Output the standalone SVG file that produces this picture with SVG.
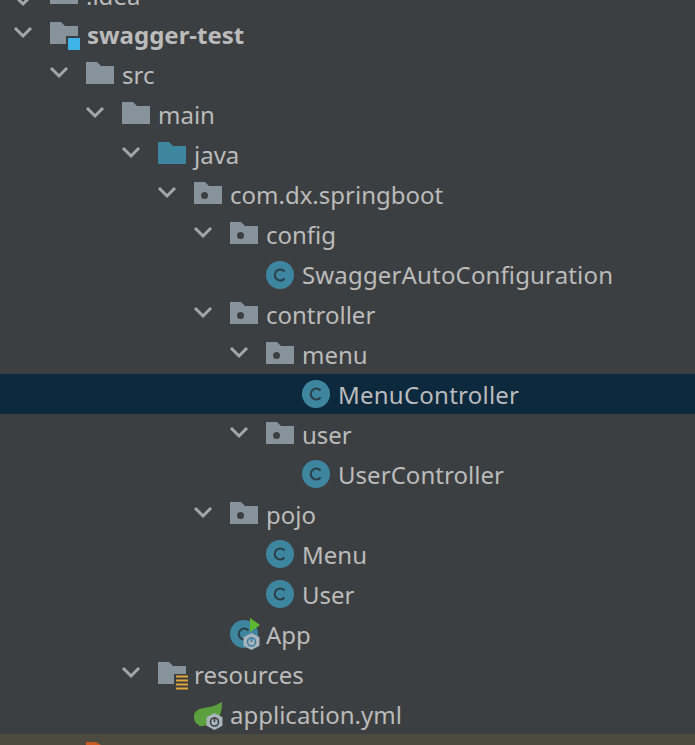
<svg xmlns="http://www.w3.org/2000/svg" width="695" height="745" viewBox="0 0 695 745">
<style>
text{font-family:"Noto Sans","Open Sans","Liberation Sans",sans-serif;font-size:24px;fill:#bbbbbb}
.b{font-weight:700}
.chev{fill:none;stroke:#a4a6a8;stroke-width:3}
.f{fill:#87939a}
.j{fill:#3e86a0}
.dot{fill:#3c3f41}
.cc{fill:#3e86a0}
.cl{fill:none;stroke:#2b3e48;stroke-width:2}
.hex{fill:#a9b4bc}
</style>
<defs>
<path id="chev" class="chev" d="M0 0L8 8L16 0"/>
<path id="folder" d="M0 0H11L15 4H28V22H0Z"/>
<g id="pkg"><use href="#folder" class="f"/><circle class="dot" cx="10.500" cy="13.500" r="3.500"/></g>
<g id="cls"><circle class="cc" r="14"/><path class="cl" d="M4.500-3.500A5.500 5.500 0 1 0 4.500 3.500"/></g>
<path id="hexagon" class="hex" d="M0-8.500L8 -4.200V4.200L0 8.500L-8 4.200V-4.200Z"/>
</defs>
<rect id="bg" width="695" height="745" fill="#3c3f41"/>
<rect id="sel" y="374" width="695" height="40" fill="#0d293e"/>
<rect id="bottom" y="734" width="695" height="11" fill="#4d4a40"/>
<path d="M86 742h10l5 3h-15z" fill="#c75b21"/>
<g id="connectors">
<use href="#chev" x="15" y="28"/><use href="#chev" x="51" y="68"/><use href="#chev" x="87" y="108"/><use href="#chev" x="123" y="148"/><use href="#chev" x="159" y="188"/><use href="#chev" x="195" y="228"/><use href="#chev" x="195" y="308"/><use href="#chev" x="231" y="348"/><use href="#chev" x="231" y="428"/><use href="#chev" x="195" y="508"/><use href="#chev" x="123" y="668"/>
<path class="chev" d="M15-4L23 4L31-4"/>
</g>
<g id="idea"><rect class="f" x="50" y="-8" width="28" height="12"/><text x="86" y="5">.idea</text></g>
<g id="swagger-test"><use href="#folder" class="f" x="50" y="22"/><rect x="66" y="36" width="16" height="16" fill="#3c3f41"/><rect x="68" y="38" width="12" height="12" fill="#3cb4e6"/><text class="b" x="87" y="44">swagger-test</text></g>
<g id="src"><use href="#folder" class="f" x="86" y="62"/><text x="122" y="84">src</text></g>
<g id="main"><use href="#folder" class="f" x="122" y="102"/><text x="158" y="124">main</text></g>
<g id="java"><use href="#folder" class="j" x="158" y="142"/><text x="194" y="164">java</text></g>
<g id="springboot"><use href="#pkg" x="194" y="182"/><text x="230" y="204">com.dx.springboot</text></g>
<g id="config"><use href="#pkg" x="230" y="222"/><text x="266" y="244">config</text></g>
<g id="swaggerauto"><use href="#cls" x="280" y="275"/><text x="302" y="284" textLength="311">SwaggerAutoConfiguration</text></g>
<g id="controller"><use href="#pkg" x="230" y="302"/><text x="266" y="324">controller</text></g>
<g id="menu"><use href="#pkg" x="266" y="342"/><text x="302" y="364">menu</text></g>
<g id="menucontroller"><use href="#cls" x="316" y="394"/><text x="338" y="404" textLength="181">MenuController</text></g>
<g id="user"><use href="#pkg" x="266" y="422"/><text x="302" y="444">user</text></g>
<g id="usercontroller"><use href="#cls" x="316" y="474"/><text x="338" y="484" textLength="166">UserController</text></g>
<g id="pojo"><use href="#pkg" x="230" y="502"/><text x="266" y="524">pojo</text></g>
<g id="menuclass"><use href="#cls" x="280" y="554"/><text x="302" y="564">Menu</text></g>
<g id="userclass"><use href="#cls" x="280" y="594"/><text x="302" y="604">User</text></g>
<g id="app"><use href="#cls" x="244" y="634"/><path d="M250 618L260 625L250 632Z" fill="#5fb832"/><use href="#hexagon" x="251.500" y="641.500"/><circle cx="251.500" cy="642" r="4" fill="none" stroke="#3e7f9d" stroke-width="1.600"/><path d="M251.500 637v5" stroke="#3e7f9d" stroke-width="1.600"/><text x="266" y="644">App</text></g>
<g id="resources"><use href="#folder" class="f" x="158" y="662"/><rect x="174" y="674" width="16" height="16" fill="#3c3f41"/><path d="M176 676.500h12M176 680.500h12M176 684.500h12M176 688.500h12" stroke="#e0a83c" stroke-width="2"/><text x="194" y="684">resources</text></g>
<g id="application"><path d="M194 717C194 708 204 708 210 707C215 706 220 703 222 702C222 712 220 722 208 725C203 726 198 727 199 725C196 724 194 721 194 717Z" fill="#5c9f3f"/><rect x="204" y="711" width="1" height="1" fill="#5c9f3f"/><use href="#hexagon" x="214.500" y="721.500"/><circle cx="214.500" cy="722" r="4" fill="none" stroke="#3c3f41" stroke-width="1.600"/><path d="M214.500 717v5" stroke="#3c3f41" stroke-width="1.600"/><text x="230" y="724">application.yml</text></g>
</svg>
